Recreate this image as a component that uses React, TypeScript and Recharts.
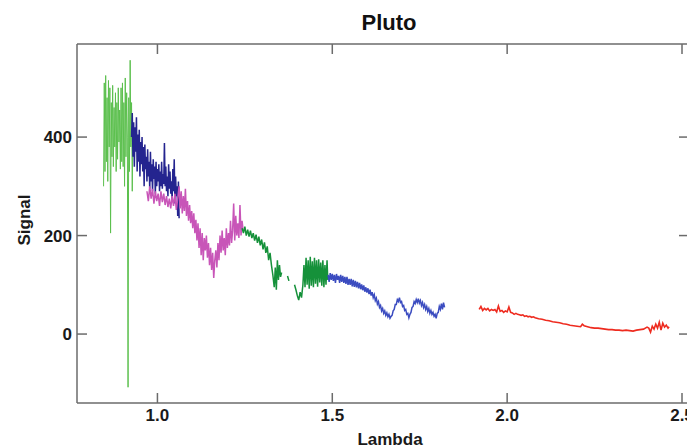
import React from 'react'
import { LineChart, Line, XAxis, YAxis } from 'recharts'

type Pt = [number, number | null]

// Spectrum segments, [lambda (µm), signal]
const visGreen: Pt[] = [
  [0.846, 300], [0.848, 510], [0.85, 330], [0.852, 525], [0.854, 350], [0.856, 480],
  [0.858, 310], [0.86, 515], [0.862, 380], [0.864, 500], [0.866, 205], [0.868, 470],
  [0.87, 360], [0.872, 505], [0.874, 340], [0.876, 460], [0.878, 380], [0.88, 490],
  [0.882, 330], [0.884, 470], [0.886, 355], [0.888, 500], [0.89, 390], [0.892, 455],
  [0.894, 335], [0.896, 500], [0.898, 350], [0.9, 510], [0.902, 340], [0.904, 470],
  [0.906, 300], [0.908, 520], [0.91, 360], [0.912, 490], [0.914, 400], [0.916, -108],
  [0.918, 480], [0.92, 330], [0.922, 556], [0.924, 380], [0.926, 470], [0.928, 290],
  [0.93, 420],
]

const zBand: Pt[] = [
  [0.926, 400], [0.928, 449], [0.93, 360], [0.932, 430], [0.934, 340], [0.936, 420],
  [0.938, 370], [0.94, 440], [0.942, 330], [0.944, 405], [0.946, 350], [0.948, 415],
  [0.95, 320], [0.952, 390], [0.954, 345], [0.956, 400], [0.958, 330], [0.96, 380],
  [0.962, 300], [0.964, 385], [0.966, 335], [0.968, 360], [0.97, 310], [0.972, 375],
  [0.974, 320], [0.976, 350], [0.978, 295], [0.98, 370], [0.982, 310], [0.984, 345],
  [0.986, 290], [0.988, 355], [0.99, 315], [0.992, 340], [0.994, 285], [0.996, 350],
  [0.998, 300], [1.0, 335], [1.002, 310], [1.004, 345], [1.006, 290], [1.008, 330],
  [1.01, 300], [1.012, 350], [1.014, 295], [1.016, 325], [1.018, 305], [1.02, 388],
  [1.022, 300], [1.024, 340], [1.026, 290], [1.028, 320], [1.03, 280], [1.032, 345],
  [1.034, 295], [1.036, 330], [1.038, 285], [1.04, 310], [1.042, 270], [1.044, 335],
  [1.046, 290], [1.048, 355], [1.05, 265], [1.052, 320], [1.054, 280], [1.056, 300],
  [1.058, 240], [1.06, 310], [1.062, 235],
]

const yBand: Pt[] = [
  [0.97, 290], [0.974, 270], [0.978, 300], [0.982, 275], [0.986, 295], [0.99, 265],
  [0.994, 290], [0.998, 270], [1.002, 285], [1.006, 260], [1.01, 290], [1.014, 268],
  [1.018, 285], [1.022, 262], [1.026, 280], [1.03, 258], [1.034, 275], [1.038, 255],
  [1.042, 280], [1.046, 260], [1.05, 285], [1.054, 252], [1.058, 275], [1.062, 300],
  [1.065, 255], [1.068, 290], [1.071, 245], [1.074, 280], [1.077, 250], [1.08, 295],
  [1.083, 240], [1.086, 270], [1.089, 230], [1.092, 262], [1.095, 225], [1.098, 250],
  [1.101, 215], [1.104, 245], [1.107, 205], [1.11, 232], [1.113, 190], [1.116, 225],
  [1.119, 175], [1.122, 215], [1.125, 160], [1.128, 205], [1.131, 150], [1.134, 195],
  [1.137, 170], [1.14, 200], [1.143, 155], [1.146, 185], [1.149, 140], [1.152, 175],
  [1.155, 130], [1.158, 165], [1.161, 114], [1.164, 150], [1.167, 170], [1.17, 135],
  [1.173, 185], [1.176, 150], [1.179, 200], [1.182, 165], [1.185, 210], [1.188, 170],
  [1.191, 195], [1.194, 160], [1.197, 215], [1.2, 175], [1.203, 205], [1.206, 180],
  [1.209, 230], [1.212, 185], [1.215, 210], [1.218, 265], [1.221, 190], [1.224, 240],
  [1.227, 200], [1.23, 225], [1.233, 195], [1.236, 262], [1.239, 200], [1.242, 230],
  [1.245, 210],
]

const jBand: Pt[] = [
  [1.242, 215], [1.246, 205], [1.25, 218], [1.254, 200], [1.258, 212], [1.262, 198],
  [1.266, 210], [1.27, 195], [1.274, 205], [1.278, 190], [1.282, 202], [1.286, 185],
  [1.29, 198], [1.294, 180], [1.298, 192], [1.302, 172], [1.306, 186], [1.31, 165],
  [1.314, 178], [1.318, 150], [1.322, 165], [1.326, 140], [1.33, 120], [1.334, 95],
  [1.337, 135], [1.34, 90], [1.343, 150], [1.346, 110], [1.349, 140], [1.352, 116],
  [1.355, 125], [1.358, null], [1.372, 118], [1.376, 108], [1.38, null], [1.392, 100],
  [1.396, 90], [1.4, 78], [1.404, 69], [1.408, 85], [1.412, 74], [1.416, 100],
  [1.419, 140], [1.422, 95], [1.425, 155], [1.428, 100], [1.431, 150], [1.434, 92],
  [1.437, 157], [1.44, 98], [1.443, 148], [1.446, 95], [1.449, 155], [1.452, 102],
  [1.455, 150], [1.458, 96], [1.461, 152], [1.464, 105], [1.467, 145], [1.47, 98],
  [1.473, 150], [1.476, 95], [1.479, 140], [1.482, 100], [1.485, 150], [1.487, 110],
]

const hBand: Pt[] = [
  [1.488, 120], [1.491, 106], [1.494, 124], [1.497, 110], [1.5, 122], [1.503, 108],
  [1.506, 120], [1.509, 104], [1.512, 122], [1.515, 110], [1.518, 118], [1.521, 104],
  [1.524, 120], [1.527, 106], [1.53, 118], [1.533, 104], [1.536, 116], [1.539, 102],
  [1.542, 116], [1.545, 100], [1.548, 112], [1.551, 100], [1.554, 112], [1.557, 97],
  [1.56, 110], [1.563, 96], [1.566, 108], [1.569, 95], [1.572, 106], [1.575, 93],
  [1.578, 104], [1.581, 91], [1.584, 101], [1.587, 89], [1.59, 99], [1.593, 86],
  [1.596, 95], [1.599, 84], [1.602, 93], [1.605, 81], [1.608, 90], [1.611, 78],
  [1.614, 85], [1.617, 74], [1.62, 80], [1.623, 68], [1.626, 73], [1.629, 61],
  [1.632, 66], [1.635, 54], [1.638, 58], [1.641, 47], [1.644, 52], [1.647, 42],
  [1.65, 47], [1.653, 38], [1.656, 43], [1.659, 35], [1.662, 40], [1.665, 32],
  [1.668, 36], [1.671, 38], [1.674, 47], [1.677, 50], [1.68, 60], [1.683, 60],
  [1.686, 70], [1.689, 66], [1.692, 74], [1.695, 64], [1.698, 66], [1.701, 56],
  [1.704, 58], [1.707, 48], [1.71, 50], [1.713, 40], [1.716, 42], [1.719, 33],
  [1.722, 40], [1.725, 44], [1.728, 54], [1.731, 56], [1.734, 66], [1.737, 62],
  [1.74, 70], [1.743, 64], [1.746, 72], [1.749, 63], [1.752, 68], [1.755, 58],
  [1.758, 64], [1.761, 54], [1.764, 60], [1.767, 50], [1.77, 56], [1.773, 46],
  [1.776, 52], [1.779, 42], [1.782, 48], [1.785, 40], [1.788, 44], [1.791, 36],
  [1.794, 40], [1.797, 32], [1.8, 42], [1.803, 44], [1.806, 56], [1.809, 50],
  [1.812, 62], [1.815, 50], [1.818, 64], [1.821, 54],
]

const kBand: Pt[] = [
  [1.92, 50], [1.925, 56], [1.93, 48], [1.935, 52], [1.94, 49], [1.945, 52],
  [1.95, 47], [1.955, 50], [1.96, 48], [1.965, 50], [1.97, 45], [1.975, 57],
  [1.98, 46], [1.985, 48], [1.99, 44], [1.995, 47], [2.0, 45], [2.005, 55],
  [2.01, 44], [2.015, 43], [2.02, 40], [2.025, 42], [2.03, 40], [2.035, 39],
  [2.04, 38], [2.045, 39], [2.05, 36], [2.055, 37], [2.06, 35], [2.065, 36],
  [2.07, 34], [2.075, 35], [2.08, 33], [2.09, 31], [2.1, 30], [2.11, 28],
  [2.12, 27], [2.13, 25], [2.14, 24], [2.15, 23], [2.16, 21], [2.17, 20],
  [2.18, 18], [2.19, 17], [2.2, 16], [2.21, 15], [2.215, 20], [2.22, 17],
  [2.23, 15], [2.24, 13], [2.25, 12], [2.26, 12], [2.27, 11], [2.28, 10],
  [2.29, 9], [2.3, 9], [2.31, 8], [2.32, 8], [2.33, 7], [2.34, 8],
  [2.35, 7], [2.36, 6], [2.37, 8], [2.38, 9], [2.39, 10], [2.4, 14],
  [2.405, 12], [2.41, 4], [2.415, 16], [2.42, 10], [2.425, 20], [2.43, 12],
  [2.435, 24], [2.44, 8], [2.445, 22], [2.45, 14], [2.455, 18], [2.46, 12],
  [2.463, 15],
]

const X_TICKS = [1.0, 1.5, 2.0, 2.5]
const Y_TICKS = [0, 200, 400]
const X_DOMAIN: [number, number] = [0.77, 2.52]
const Y_DOMAIN: [number, number] = [-140, 589]

const SEGMENTS = [
  { key: 'vis', pts: visGreen, color: '#5cc04e', width: 1 },
  { key: 'z', pts: zBand, color: '#24248f', width: 1.5 },
  { key: 'y', pts: yBand, color: '#c855b8', width: 1.5 },
  { key: 'j', pts: jBand, color: '#15913a', width: 1.5 },
  { key: 'h', pts: hBand, color: '#3b4cc0', width: 1.5 },
  { key: 'k', pts: kBand, color: '#ee2b1f', width: 1.6 },
]

const toRows = (pts: Pt[]) => pts.map(([l, s]) => ({ l, s }))

const FONT = '"Liberation Sans", Arial, sans-serif'
const AXIS_COLOR = '#6b6b6b'
const tickStyle = { fill: '#1a1a1a', fontSize: 17, fontWeight: 700, fontFamily: FONT }
const axisStroke = { stroke: AXIS_COLOR, strokeWidth: 1.5 }

export default function App() {
  return (
    <div
      style={{
        position: 'fixed',
        left: 0,
        top: 0,
        width: 687,
        height: 448,
        overflow: 'hidden',
        background: '#fff',
      }}
    >
      <LineChart
        width={700}
        height={448}
        margin={{ top: 43, right: 10, bottom: 0, left: 0 }}
      >
        <XAxis
          type="number"
          dataKey="l"
          domain={X_DOMAIN}
          ticks={X_TICKS}
          allowDataOverflow
          tickFormatter={(v) => v.toFixed(1)}
          height={45}
          tickSize={-10}
          tickMargin={16}
          tick={tickStyle}
          axisLine={axisStroke}
          tickLine={axisStroke}
        />
        <XAxis
          xAxisId="top"
          orientation="top"
          type="number"
          dataKey="l"
          domain={X_DOMAIN}
          ticks={X_TICKS}
          allowDataOverflow
          tickFormatter={() => ''}
          height={1}
          tickSize={-10}
          axisLine={axisStroke}
          tickLine={axisStroke}
        />
        <YAxis
          type="number"
          domain={Y_DOMAIN}
          ticks={Y_TICKS}
          allowDataOverflow
          width={77}
          tickSize={-10}
          tickMargin={15}
          tick={tickStyle}
          axisLine={axisStroke}
          tickLine={axisStroke}
        />
        <YAxis
          yAxisId="right"
          orientation="right"
          type="number"
          domain={Y_DOMAIN}
          ticks={Y_TICKS}
          allowDataOverflow
          width={1}
          tickSize={-10}
          tickFormatter={() => ''}
          axisLine={axisStroke}
          tickLine={axisStroke}
        />
        {SEGMENTS.map((seg) => (
          <Line
            key={seg.key}
            data={toRows(seg.pts)}
            dataKey="s"
            type="linear"
            stroke={seg.color}
            strokeWidth={seg.width}
            dot={false}
            activeDot={false}
            connectNulls={false}
            isAnimationActive={false}
          />
        ))}
      </LineChart>
      {/* title and axis names */}
      <svg
        width={687}
        height={448}
        style={{ position: 'absolute', left: 0, top: 0, pointerEvents: 'none' }}
      >
        <text x={389} y={30} textAnchor="middle" fontSize={22} fontWeight={700} fontFamily={FONT} fill="#111">
          Pluto
        </text>
        <text x={390} y={445} textAnchor="middle" fontSize={17} fontWeight={700} fontFamily={FONT} fill="#1a1a1a">
          Lambda
        </text>
        <text
          transform="translate(30,220) rotate(-90)"
          textAnchor="middle"
          fontSize={17}
          fontWeight={700}
          fontFamily={FONT}
          fill="#1a1a1a"
        >
          Signal
        </text>
      </svg>
    </div>
  )
}
